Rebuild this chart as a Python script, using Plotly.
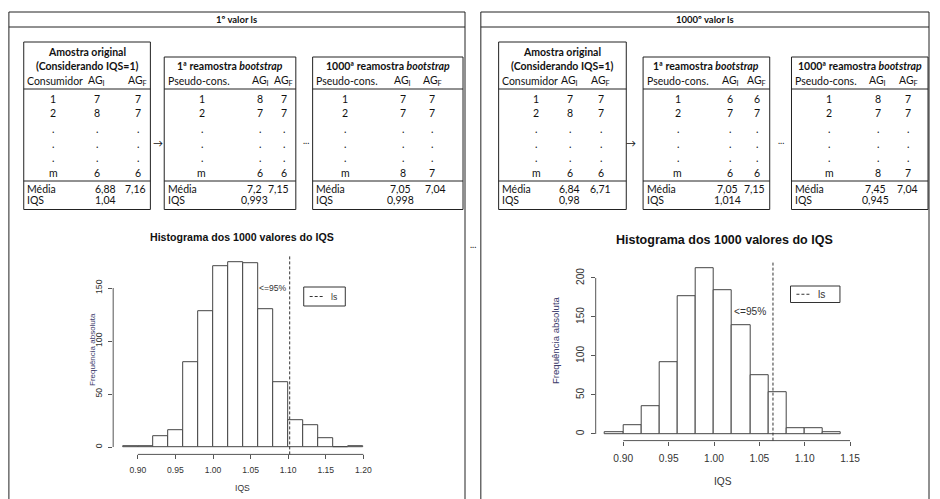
import plotly.graph_objects as go

W, H = 940, 499

# ---------------- data ----------------
panel_titles = ["1º valor ls", "1000º valor ls"]
row_index = ["1", "2", ".", ".", ".", "m"]

# left panel (1st value of ls)
l_orig_agi = ["7", "8", ".", ".", ".", "6"]
l_orig_agf = ["7", "7", ".", ".", ".", "6"]
l_orig_media = ["6,88", "7,16"]
l_orig_iqs = "1,04"
l_b1_agi = ["8", "7", ".", ".", ".", "6"]
l_b1_agf = ["7", "7", ".", ".", ".", "6"]
l_b1_media = ["7,2", "7,15"]
l_b1_iqs = "0,993"
l_b1000_agi = ["7", "7", ".", ".", ".", "8"]
l_b1000_agf = ["7", "7", ".", ".", ".", "7"]
l_b1000_media = ["7,05", "7,04"]
l_b1000_iqs = "0,998"

# right panel (1000th value of ls)
r_orig_agi = ["7", "8", ".", ".", ".", "6"]
r_orig_agf = ["7", "7", ".", ".", ".", "6"]
r_orig_media = ["6,84", "6,71"]
r_orig_iqs = "0,98"
r_b1_agi = ["6", "7", ".", ".", ".", "6"]
r_b1_agf = ["6", "7", ".", ".", ".", "6"]
r_b1_media = ["7,05", "7,15"]
r_b1_iqs = "1,014"
r_b1000_agi = ["8", "7", ".", ".", ".", "8"]
r_b1000_agf = ["7", "7", ".", ".", ".", "7"]
r_b1000_media = ["7,45", "7,04"]
r_b1000_iqs = "0,945"

# histograms of the 1000 bootstrap IQS values (bin width 0.02)
left_bins = [0.88, 0.90, 0.92, 0.94, 0.96, 0.98, 1.00, 1.02,
             1.04, 1.06, 1.08, 1.10, 1.12, 1.14, 1.16, 1.18]
left_counts = [1, 1, 10, 16, 80, 128, 171, 174, 173, 130, 61, 25, 21, 8, 0, 1]
left_ls = 1.102
left_xticks = [0.90, 0.95, 1.00, 1.05, 1.10, 1.15, 1.20]
left_yticks = [0, 50, 100, 150]

right_bins = [0.88, 0.90, 0.92, 0.94, 0.96, 0.98, 1.00,
              1.02, 1.04, 1.06, 1.08, 1.10, 1.12]
right_counts = [2, 11, 36, 92, 177, 213, 184, 139, 75, 54, 8, 7, 2]
right_ls = 1.065
right_xticks = [0.90, 0.95, 1.00, 1.05, 1.10, 1.15]
right_yticks = [0, 50, 100, 150, 200]

BIN_W = 0.02

# ---------------- helpers ----------------
def px(x):
    return x / W


def py(y):
    return 1 - y / H


shapes = []
annotations = []
TABLE_FONT = "Lato, 'Liberation Sans', sans-serif"
R_FONT = "'Liberation Sans', Arial, sans-serif"
LINE = "#222222"
INK = "#111111"
GREY = "#333333"


def rect(x0, y0, x1, y1, color=LINE, width=1):
    shapes.append(dict(type="rect", xref="paper", yref="paper",
                       x0=px(x0), x1=px(x1), y0=py(y0), y1=py(y1),
                       line=dict(color=color, width=width),
                       fillcolor="rgba(0,0,0,0)", layer="above"))


def hline(x0, x1, y, color=LINE, width=1, dash="solid"):
    shapes.append(dict(type="line", xref="paper", yref="paper",
                       x0=px(x0), x1=px(x1), y0=py(y), y1=py(y),
                       line=dict(color=color, width=width, dash=dash),
                       layer="above"))


def text(x, y, s, size=10.5, anchor="center", bold=False, color=INK,
         family=TABLE_FONT, angle=0):
    if bold:
        s = "<b>" + s + "</b>"
    annotations.append(dict(x=px(x), y=py(y), xref="paper", yref="paper",
                            text=s, showarrow=False, xanchor=anchor,
                            yanchor="middle", textangle=angle,
                            font=dict(family=family, size=size, color=color)))


ROW_Y = [98.5, 113.5, 128.5, 143.5, 158.5, 173.0]
HDR_Y = 80.5
LINE1_Y = 89.0
LINE2_Y = 181.0
MEDIA_Y = 188.5
IQS_Y = 199.5
BOTTOM_Y = 209.5


def table(x0, x1, top, title_lines, first_col, agi, agf, media, iqs, cols):
    idx_c, agi_c, agf_c, m1_c, m2_c = cols
    rect(x0, top, x1, BOTTOM_Y)
    hline(x0, x1, LINE1_Y)
    hline(x0, x1, LINE2_Y)
    cx = (x0 + x1) / 2
    if len(title_lines) == 2:
        text(cx, 51.5, title_lines[0], bold=True)
        text(cx, 66.0, title_lines[1], bold=True)
    else:
        text(cx, 66.0, title_lines[0], bold=True)
    text(x0 + 1.5, HDR_Y, first_col, anchor="left")
    text(x0 + agi_c, HDR_Y, "AG<sub>I</sub>")
    text(x0 + agf_c, HDR_Y, "AG<sub>F</sub>")
    for i, y in enumerate(ROW_Y):
        text(x0 + idx_c, y, row_index[i])
        text(x0 + agi_c, y, agi[i])
        text(x0 + agf_c, y, agf[i])
    text(x0 + 1.5, MEDIA_Y, "Média", anchor="left")
    text(x0 + m1_c, MEDIA_Y, media[0])
    text(x0 + m2_c, MEDIA_Y, media[1])
    text(x0 + 1.5, IQS_Y, "IQS", anchor="left")
    text(x0 + m1_c, IQS_Y, iqs)


BOOT1 = "1ª reamostra <i>bootstrap</i>"
BOOT1000 = "1000ª reamostra <i>bootstrap</i>"
ORIG = ["Amostra original", "(Considerando IQS=1)"]

# ---------------- panels ----------------
panels = [
    dict(x0=9, x1=470, title=panel_titles[0],
         t1=(24, 152), t2=(166, 299), t3=(316, 468),
         arrow=160, dots=309,
         data=[(l_orig_agi, l_orig_agf, l_orig_media, l_orig_iqs),
               (l_b1_agi, l_b1_agf, l_b1_media, l_b1_iqs),
               (l_b1000_agi, l_b1000_agf, l_b1000_media, l_b1000_iqs)],
         cols=[(30, 74, 115, 83, 113), (38, 97, 121, 91, 115),
               (33, 91, 121, 89, 124)]),
    dict(x0=486, x1=939, title=panel_titles[1],
         t1=(504, 633), t2=(650, 778), t3=(800, 938),
         arrow=638, dots=789,
         data=[(r_orig_agi, r_orig_agf, r_orig_media, r_orig_iqs),
               (r_b1_agi, r_b1_agf, r_b1_media, r_b1_iqs),
               (r_b1000_agi, r_b1000_agf, r_b1000_media, r_b1000_iqs)],
         cols=[(38, 72, 103, 72, 103), (35, 88, 115, 85, 113),
               (38, 87, 118, 85, 117)]),
]

for p in panels:
    rect(p["x0"], 12, p["x1"], 520)
    hline(p["x0"], p["x1"], 27)
    text((p["x0"] + p["x1"]) / 2, 19.5, p["title"], size=9.5, bold=True)
    (a, b), (c, d), (e, f) = p["t1"], p["t2"], p["t3"]
    table(a, b, 42, ORIG, "Consumidor", *p["data"][0], p["cols"][0])
    table(c, d, 57, [BOOT1], "Pseudo-cons.", *p["data"][1], p["cols"][1])
    table(e, f, 57, [BOOT1000], "Pseudo-cons.", *p["data"][2], p["cols"][2])
    text(p["arrow"], 143, "→", size=10)
    text(p["dots"], 141, "...", size=9)

text(478, 245, "...", size=9)

# ---------------- histograms ----------------
fig = go.Figure()

hists = [
    dict(bins=left_bins, counts=left_counts, ls=left_ls, xt=left_xticks,
         yt=left_yticks, xr=[0.8672, 1.2128], yr=[-6.96, 180.96],
         xd=[114.4, 377.0], yd=[454.4, 255.2], tick=8.6, title_size=10.6,
         title_xy=(245, 237), lab_xy=(245, 488), ylab_xy=(93, 350),
         pct_xy=(276, 288), leg=(307, 287, 349, 306), xa="x", ya="y",
         xstand=3, ystand=3),
    dict(bins=right_bins, counts=right_counts, ls=right_ls, xt=right_xticks,
         yt=right_yticks, xr=[0.8696, 1.1504], yr=[-8.52, 221.52],
         xd=[602.1, 859.6], yd=[440.6, 261.2], tick=10.2, title_size=12.5,
         title_xy=(732, 240), lab_xy=(731, 481), ylab_xy=(561, 340),
         pct_xy=(758, 311), leg=(799, 286, 849, 302.5), xa="x2", ya="y2",
         xstand=4, ystand=3),
]

AX = "#555555"
for i, h in enumerate(hists):
    fig.add_trace(go.Bar(
        x=h["bins"], y=h["counts"], offset=0, width=BIN_W,
        marker=dict(color="white", line=dict(color="#444444", width=1)),
        xaxis=h["xa"], yaxis=h["ya"], showlegend=False, hoverinfo="skip"))
    xname = "xaxis" if i == 0 else "xaxis2"
    yname = "yaxis" if i == 0 else "yaxis2"
    fig.update_layout(**{
        xname: dict(domain=[px(h["xd"][0]), px(h["xd"][1])], range=h["xr"],
                    anchor=h["ya"], showgrid=False, zeroline=False,
                    showline=False, ticks="outside", ticklen=4,
                    tickcolor=AX, tickwidth=1, tickvals=h["xt"],
                    ticktext=["%.2f" % v for v in h["xt"]],
                    ticklabelstandoff=h["xstand"],
                    tickfont=dict(family=R_FONT, size=h["tick"], color=GREY),
                    fixedrange=True),
        yname: dict(domain=[py(h["yd"][0]), py(h["yd"][1])], range=h["yr"],
                    anchor=h["xa"], showgrid=False, zeroline=False,
                    showline=False, ticks="outside", ticklen=4,
                    tickcolor=AX, tickwidth=1, tickvals=h["yt"],
                    tickangle=-90, ticklabelstandoff=h["ystand"],
                    tickfont=dict(family=R_FONT, size=h["tick"], color=GREY),
                    fixedrange=True),
    })
    xref, yref = h["xa"], h["ya"]
    # axis segments spanning the first to last tick
    shapes.append(dict(type="line", xref=xref, yref=yref + " domain",
                       x0=h["xt"][0], x1=h["xt"][-1], y0=0, y1=0,
                       line=dict(color=AX, width=1)))
    shapes.append(dict(type="line", xref=xref + " domain", yref=yref,
                       x0=0, x1=0, y0=h["yt"][0], y1=h["yt"][-1],
                       line=dict(color=AX, width=1)))
    # ls reference line
    shapes.append(dict(type="line", xref=xref, yref=yref + " domain",
                       x0=h["ls"], x1=h["ls"], y0=0, y1=1,
                       line=dict(color=GREY, width=1, dash="3px,2px")))
    text(h["title_xy"][0], h["title_xy"][1],
         "Histograma dos 1000 valores do IQS", size=h["title_size"],
         bold=True, family=R_FONT)
    text(h["lab_xy"][0], h["lab_xy"][1], "IQS", size=h["tick"],
         family=R_FONT, color=GREY)
    text(h["ylab_xy"][0], h["ylab_xy"][1], "Frequência absoluta",
         size=h["tick"] - 0.6, family=R_FONT, color="#3a3a6a", angle=-90)
    text(h["pct_xy"][0], h["pct_xy"][1], "<=95%", size=h["tick"],
         family=R_FONT, color=GREY)
    lx0, ly0, lx1, ly1 = h["leg"]
    rect(lx0, ly0, lx1, ly1, color=GREY)
    ly = (ly0 + ly1) / 2
    hline(lx0 + 6, lx0 + 20, ly, color=GREY, dash="3px,2px")
    text(lx0 + 31, ly, "ls", size=h["tick"], family=R_FONT, color=GREY)

fig.update_layout(
    width=W, height=H,
    margin=dict(l=0, r=0, t=0, b=0),
    paper_bgcolor="white", plot_bgcolor="white",
    shapes=shapes, annotations=annotations,
    bargap=0, showlegend=False,
)

fig.write_html("out.html")
